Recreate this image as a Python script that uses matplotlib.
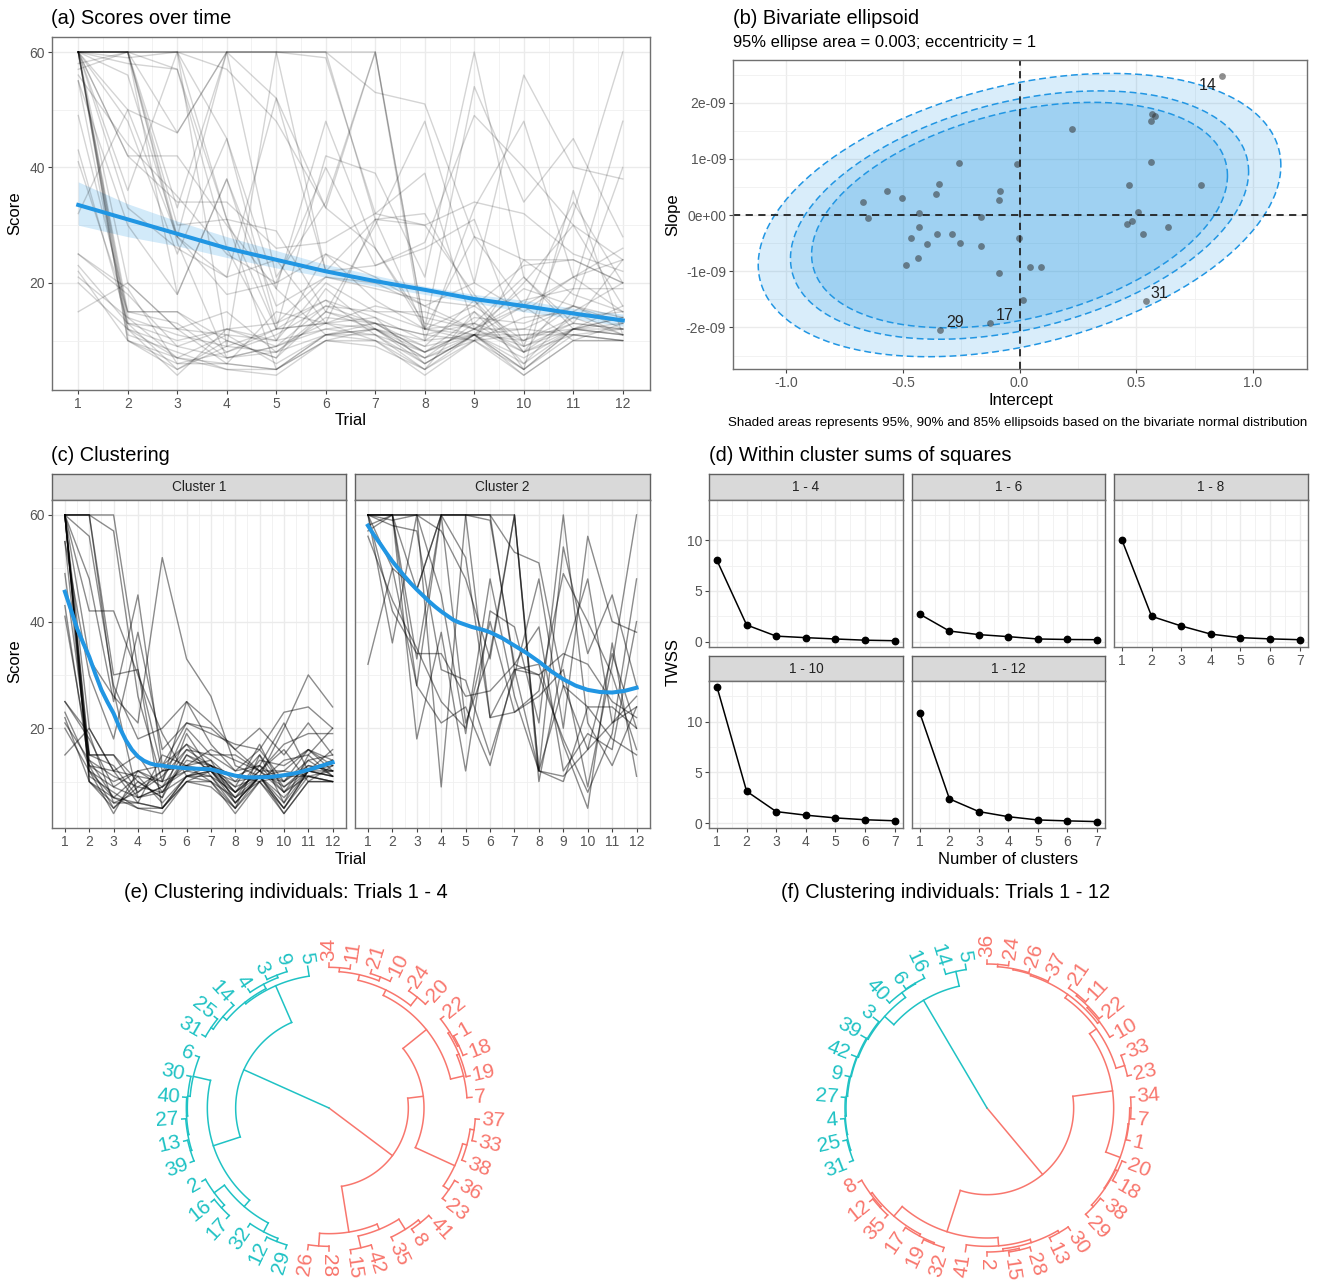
import numpy as np
import matplotlib
matplotlib.use('Agg')
import matplotlib.pyplot as plt
from matplotlib.ticker import FixedLocator

plt.rcParams['font.family'] = ['Liberation Sans', 'DejaVu Sans']

W, H = 1320, 1281
BLUE = '#2196E3'
RED = '#F8766D'
CYAN = '#1FC2C4'

trials = list(range(1, 13))

cluster1 = [
    [60, 60, 60, 31, 5, 11, 12, 6, 11, 5, 12, 12],
    [60, 60, 57, 26, 10, 25, 21, 16, 12, 12, 11, 10],
    [60, 42, 42, 30, 19, 11, 13, 8, 11, 7, 12, 11],
    [60, 60, 30, 31, 12, 17, 14, 10, 15, 9, 13, 12],
    [60, 56, 28, 18, 20, 25, 17, 12, 13, 10, 16, 14],
    [60, 48, 25, 45, 13, 21, 19, 17, 16, 23, 24, 20],
    [60, 33, 26, 21, 52, 33, 26, 13, 11, 20, 30, 24],
    [55, 30, 18, 38, 16, 21, 20, 16, 20, 15, 21, 15],
    [60, 20, 12, 15, 8, 14, 13, 11, 10, 14, 15, 11],
    [49, 15, 15, 8, 11, 16, 15, 15, 12, 17, 19, 19],
    [43, 13, 10, 12, 9, 13, 12, 9, 17, 8, 12, 14],
    [41, 15, 15, 10, 7, 15, 13, 9, 11, 12, 16, 13],
    [60, 13, 12, 11, 6, 11, 10, 5, 11, 4, 10, 10],
    [60, 10, 7, 6, 5, 11, 11, 6, 11, 5, 12, 11],
    [60, 10, 6, 6, 5, 10, 10, 4, 10, 4, 10, 10],
    [60, 12, 7, 5, 4, 10, 9, 5, 10, 5, 11, 10],
    [60, 11, 8, 5, 5, 10, 12, 7, 11, 6, 12, 13],
    [25, 18, 9, 7, 9, 12, 13, 8, 12, 9, 12, 11],
    [25, 19, 6, 8, 12, 13, 14, 6, 11, 10, 13, 12],
    [23, 13, 5, 9, 8, 11, 12, 7, 13, 8, 14, 11],
    [22, 10, 5, 10, 7, 19, 12, 10, 11, 11, 11, 10],
    [21, 14, 7, 11, 10, 20, 15, 12, 16, 10, 14, 15],
    [20, 12, 4, 12, 13, 17, 11, 5, 15, 6, 15, 20],
    [15, 20, 12, 6, 15, 13, 16, 14, 12, 16, 10, 13],
    [60, 14, 11, 9, 12, 13, 10, 7, 10, 11, 12, 16],
    [60, 15, 13, 7, 8, 15, 12, 8, 14, 13, 16, 12],
    [60, 60, 27, 7, 9, 16, 13, 11, 13, 21, 12, 14],
    [55, 12, 9, 12, 10, 12, 11, 8, 12, 8, 11, 12],
]
cluster2 = [
    [60, 60, 60, 60, 60, 60, 53, 51, 28, 16, 21, 24],
    [60, 60, 60, 60, 60, 59, 32, 30, 34, 32, 25, 22],
    [60, 60, 46, 60, 52, 22, 23, 27, 49, 40, 30, 16],
    [60, 60, 60, 57, 48, 33, 60, 12, 10, 24, 18, 15],
    [60, 60, 33, 60, 21, 34, 60, 10, 33, 48, 21, 26],
    [60, 59, 60, 45, 19, 48, 26, 12, 54, 34, 45, 28],
    [57, 60, 18, 38, 12, 42, 39, 21, 60, 21, 13, 24],
    [60, 58, 57, 31, 29, 15, 30, 48, 20, 56, 40, 38],
    [60, 50, 28, 21, 24, 13, 31, 32, 17, 5, 36, 11],
    [56, 44, 35, 25, 20, 40, 23, 26, 31, 9, 32, 60],
    [60, 42, 34, 34, 26, 27, 32, 39, 12, 19, 16, 40],
    [60, 36, 60, 9, 60, 60, 31, 30, 18, 8, 19, 48],
    [32, 50, 46, 60, 60, 22, 31, 12, 11, 16, 34, 20],
    [58, 60, 28, 60, 60, 60, 60, 12, 28, 24, 24, 20],
]

mean_all = [33.5, 31, 28.5, 26, 24, 22, 20.3, 18.8, 17.2, 16, 14.7, 13.5]
band_hi = [37.5, 33.7, 30.7, 28, 25.6, 23.2, 21.3, 19.4, 18, 17, 15.6, 14.6]
band_lo = [30, 28, 26.4, 24.4, 22.6, 21, 19.4, 18, 16.5, 15, 13.8, 12.5]

smooth_x = [1, 1.25, 1.5, 1.75, 2, 2.25, 2.5, 2.75, 3, 3.25, 3.5, 3.75, 4, 4.25, 4.5, 4.75, 5, 5.25, 5.5, 5.75, 6,
            6.5, 7, 7.5, 8, 8.5, 9, 9.5, 10, 10.5, 11, 11.5, 12]
smooth1 = [45.6, 42.2, 38.7, 36, 33.4, 30.2, 27.2, 24.9, 22.8, 20.1, 17.8, 16, 14.7, 13.9, 13.4, 13.1, 13, 12.8, 12.7,
           12.6, 12.5, 12.4, 12.3, 11.7, 11.1, 10.8, 10.8, 10.9, 11.2, 11.6, 12.2, 12.9, 13.6]
smooth2 = [58, 56.2, 54.6, 52.9, 51.3, 49.9, 48.5, 47.2, 46, 44.9, 43.8, 42.8, 41.9, 41.1, 40.3, 39.8, 39.4, 39, 38.7,
           38.4, 38, 36.9, 35.5, 34.1, 32.5, 30.7, 29.2, 28, 27.2, 26.8, 26.7, 27, 27.6]

intercepts = [.868, .566, .58, .562, .224, .564, -.259, -.013, .467, .779, -.344, -.356, -.57, -.505,
              -.083, -.089, -.671, -.429, .508, -.649, -.166, .461, .481, -.429, .635, .53, -.353,
              -.289, -.255, -.465, -.398, -.165, -.004, -.434, -.488, .045, .094, -.089, .013, .542,
              -.127, -.34]
slopes = [2.48, 1.8, 1.77, 1.67, 1.54, .94, .93, .91, .54, .53, .55, .37, .42, .3, .42, .27, .23, .04,
          .05, -.05, -.04, -.16, -.11, -.21, -.21, -.33, -.33, -.34, -.5, -.41, -.52, -.55, -.4, -.77,
          -.88, -.93, -.93, -1.03, -1.51, -1.53, -1.93, -2.05]
outliers = ['14', '31', '17', '29']
outlier_x = [.805, .60, -.063, -.275]
outlier_y = [2.31, -1.39, -1.78, -1.92]
sd_x, sd_y, rho = .4575, 1.03, .35
ellipse_q = [2.448, 2.146, 1.948]

n_clusters = [1, 2, 3, 4, 5, 6, 7]
wss_names = ['1 - 4', '1 - 6', '1 - 8', '1 - 10', '1 - 12']
wss = [
    [8.0, 1.65, .55, .4, .27, .15, .1],
    [2.7, 1.05, .7, .5, .27, .22, .2],
    [10.0, 2.5, 1.55, .75, .4, .28, .2],
    [13.4, 3.15, 1.15, .8, .53, .35, .25],
    [10.8, 2.4, 1.15, .65, .33, .24, .17],
]

# dendrograms: (radius, child, child), leaves clockwise from the top
red_e = (238,
         (285,
          (375,
           (393, (410, (422, '34', '11'), (422, '21', '10')), (425, '24', '20')),
           (415, (422, (428, '22', (432, '1', '18')), '19'), '7')),
          (415, (428, (440, '37', '33'), '38'), (435, '36', '23'))),
         (377,
          (394, (430, (440, '41', '8'), '35'), (430, '42', '15')),
          (415, '28', '26')))
cyan_e = (280,
          (365,
           (390, (420, (430, '29', '12'), '32'), (428, (440, '17', '16'), '2')),
           (418, (425, (428, (431, (435, '39', '13'), '27'), '40'), '30'), '6')),
          (400,
           (405, (420, (428, '31', '25'), '14'), (420, '4', (428, '3', '9'))),
           '5'))
red_f = (260,
         (380,
          (405,
           (418,
            (422, (425, (432, '36', '24'), '26'), '37'),
            (425, (430, (435, '21', '11'), '22'), '10')),
           (432, '33', '23')),
          (426,
           (428, (432, '34', '7'), '1'),
           (428, (435, '20', '18'), (435, '38', '29')))),
         (390,
          (415,
           (425, (432, '30', '13'), (432, (437, '28', '15'), '2')),
           '41'),
          (428,
           (434, (438, '32', '19'), '17'),
           (434, (438, '35', '12'), '8'))))
cyan_f = (375,
          (412,
           (415, (418, (420, (423, (426, (428, (431, '31', '25'), '4'), '27'), '9'), '42'), '39'), '3'),
           (430, '40', (432, '6', '16'))),
          (420, '14', '5'))


def px_axes(fig, left, top, right, bottom, **kw):
    return fig.add_axes([left / W, 1 - bottom / H, (right - left) / W, (bottom - top) / H], **kw)


def fig_text(fig, x, y, s, **kw):
    kw.setdefault('ha', 'left')
    kw.setdefault('va', 'center')
    kw.setdefault('color', 'black')
    fig.text(x / W, 1 - y / H, s, **kw)


def style_axes(ax, xmajor, xminor, ymajor, yminor, xlabels=True, ylabels=True):
    ax.set_axisbelow(True)
    ax.xaxis.set_major_locator(FixedLocator(xmajor))
    ax.xaxis.set_minor_locator(FixedLocator(xminor))
    ax.yaxis.set_major_locator(FixedLocator(ymajor))
    ax.yaxis.set_minor_locator(FixedLocator(yminor))
    ax.grid(which='major', color='#EBEBEB', lw=1.0)
    ax.grid(which='minor', color='#F0F0F0', lw=0.6)
    ax.tick_params(which='minor', length=0)
    ax.tick_params(which='major', length=3, width=0.8, color='#444444', labelcolor='#555555', labelsize=10, pad=2)
    if not xlabels:
        ax.tick_params(axis='x', which='major', length=0, labelbottom=False)
    if not ylabels:
        ax.tick_params(axis='y', which='major', length=0, labelleft=False)
    for sp in ax.spines.values():
        sp.set_color('#707070')
        sp.set_linewidth(1.0)


def strip(fig, left, top, right, bottom, label):
    ax = px_axes(fig, left, top, right, bottom)
    ax.set_facecolor('#D9D9D9')
    ax.set_xticks([])
    ax.set_yticks([])
    for sp in ax.spines.values():
        sp.set_color('#606060')
        sp.set_linewidth(1.0)
    ax.text(0.5, 0.5, label, transform=ax.transAxes, ha='center', va='center', fontsize=9.8, color='#222222')


def draw_node(ax, node, parent_r, color, leaves, floor_r):
    if isinstance(node, str):
        theta = leaves[0] * 2 * np.pi / 42
        leaves[0] += 1
        end_r = max(parent_r + 12, floor_r)
        ax.plot([theta, theta], [parent_r, end_r], color=color, lw=1.1)
        deg = np.degrees(theta)
        if deg <= 180:
            rot, ha = 90 - deg, 'left'
        else:
            rot, ha = 270 - deg, 'right'
        ax.text(theta, end_r + 8, node, rotation=rot, rotation_mode='anchor', ha=ha, va='center',
                color=color, fontsize=15)
        return theta
    r, a, b = node
    t1 = draw_node(ax, a, r, color, leaves, floor_r)
    t2 = draw_node(ax, b, r, color, leaves, floor_r)
    arc = np.linspace(t1, t2, 60)
    ax.plot(arc, np.full(60, r), color=color, lw=1.1)
    theta = (t1 + t2) / 2
    ax.plot([theta, theta], [parent_r, r], color=color, lw=1.1)
    return theta


def dendrogram(fig, cx, cy, red_tree, cyan_tree, floor_r):
    half = 172
    ax = px_axes(fig, cx - half, cy - half, cx + half, cy + half, projection='polar')
    ax.set_theta_zero_location('N')
    ax.set_theta_direction(-1)
    ax.set_rlim(0, half * 3)
    ax.axis('off')
    leaves = [0]
    draw_node(ax, red_tree, 0, RED, leaves, floor_r)
    draw_node(ax, cyan_tree, 0, CYAN, leaves, floor_r)


def main():
    fig = plt.figure(figsize=(W / 100, H / 100), dpi=100)
    title_fs = 14.4
    label_fs = 12

    # (a)
    ax = px_axes(fig, 52, 37, 650, 390)
    for row in cluster1 + cluster2:
        ax.plot(trials, row, color='black', alpha=0.17, lw=1.0)
    ax.fill_between(trials, band_lo, band_hi, color=BLUE, alpha=0.2, lw=0)
    ax.plot(trials, mean_all, color=BLUE, lw=2.9)
    ax.set_xlim(0.47, 12.55)
    ax.set_ylim(1.44, 62.6)
    style_axes(ax, trials, np.arange(1.5, 12, 1), [20, 40, 60], [10, 30, 50])
    fig_text(fig, 51, 18, '(a) Scores over time', fontsize=title_fs)
    fig_text(fig, 15, 213, 'Score', rotation=90, ha='center', fontsize=label_fs)
    fig_text(fig, 351, 421, 'Trial', ha='center', fontsize=label_fs)

    # (b)
    ax = px_axes(fig, 733, 60, 1307, 369)
    t = np.linspace(0, 2 * np.pi, 300)
    for q in ellipse_q:
        ex = q * sd_x * np.cos(t)
        ey = q * sd_y * (rho * np.cos(t) + np.sqrt(1 - rho ** 2) * np.sin(t))
        ax.fill(ex, ey, color=BLUE, alpha=0.17, lw=0)
        ax.plot(ex, ey, color=BLUE, lw=1.1, ls=(0, (4.5, 2.5)))
    ax.axhline(0, color='#222222', lw=1.3, ls=(0, (4, 3)))
    ax.axvline(0, color='#222222', lw=1.3, ls=(0, (4, 3)))
    ax.scatter(intercepts, slopes, s=24, color='#333333', alpha=0.55, lw=0, zorder=3)
    for name, x, y in zip(outliers, outlier_x, outlier_y):
        ax.text(x, y, name, ha='center', va='center', fontsize=11.5, color='#222222', zorder=4)
    ax.set_xlim(-1.228, 1.232)
    ax.set_ylim(-2.74, 2.76)
    style_axes(ax, [-1, -.5, 0, .5, 1], [-.75, -.25, .25, .75], [-2, -1, 0, 1, 2], [-2.5, -1.5, -.5, .5, 1.5, 2.5])
    ax.set_xticklabels(['-1.0', '-0.5', '0.0', '0.5', '1.0'])
    ax.set_yticklabels(['-2e-09', '-1e-09', '0e+00', '1e-09', '2e-09'])
    fig_text(fig, 733, 18, '(b) Bivariate ellipsoid', fontsize=title_fs)
    fig_text(fig, 733, 43, '95% ellipse area = 0.003; eccentricity = 1', fontsize=11.9)
    fig_text(fig, 673, 215, 'Slope', rotation=90, ha='center', fontsize=label_fs)
    fig_text(fig, 1021, 401, 'Intercept', ha='center', fontsize=label_fs)
    fig_text(fig, 1307, 423, 'Shaded areas represents 95%, 90% and 85% ellipsoids based on the bivariate normal distribution',
             ha='right', fontsize=9.65)

    # (c)
    boxes = [(52, 346, 'Cluster 1', cluster1, smooth1), (355, 650, 'Cluster 2', cluster2, smooth2)]
    for i, (left, right, name, rows, smooth) in enumerate(boxes):
        strip(fig, left, 474, right, 500, name)
        ax = px_axes(fig, left, 500, right, 828)
        for row in rows:
            ax.plot(trials, row, color='black', alpha=0.45, lw=1.0)
        ax.plot(smooth_x, smooth, color=BLUE, lw=2.9)
        ax.set_xlim(0.47, 12.55)
        ax.set_ylim(1.3, 62.8)
        style_axes(ax, trials, np.arange(1.5, 12, 1), [20, 40, 60], [10, 30, 50], ylabels=i == 0)
    fig_text(fig, 51, 456, '(c) Clustering', fontsize=title_fs)
    fig_text(fig, 15, 661, 'Score', rotation=90, ha='center', fontsize=label_fs)
    fig_text(fig, 351, 859, 'Trial', ha='center', fontsize=label_fs)

    # (d)
    cols = [(709, 903), (912, 1105), (1114, 1308)]
    rows_px = [(474, 500, 646.7), (656, 681.3, 828.3)]
    for i, name in enumerate(wss_names):
        col = i % 3
        row = i // 3
        left, right = cols[col]
        s_top, p_top, p_bot = rows_px[row]
        strip(fig, left, s_top, right, p_top, name)
        ax = px_axes(fig, left, p_top, right, p_bot)
        ax.plot(n_clusters, wss[i], color='black', lw=1.1, marker='o', ms=4.6)
        ax.set_xlim(0.73, 7.28)
        ax.set_ylim(-0.49, 13.95)
        style_axes(ax, n_clusters, np.arange(1.5, 7, 1), [0, 5, 10], [2.5, 7.5, 12.5],
                   xlabels=row == 1 or col == 2, ylabels=col == 0)
    fig_text(fig, 709, 456, '(d) Within cluster sums of squares', fontsize=title_fs)
    fig_text(fig, 673, 662, 'TWSS', rotation=90, ha='center', fontsize=label_fs)
    fig_text(fig, 1008, 859, 'Number of clusters', ha='center', fontsize=label_fs)

    # (e), (f)
    fig_text(fig, 124, 893, '(e) Clustering individuals: Trials 1 - 4', fontsize=title_fs)
    fig_text(fig, 781, 893, '(f) Clustering individuals: Trials 1 - 12', fontsize=title_fs)
    dendrogram(fig, 329, 1108, red_e, cyan_e, 430)
    dendrogram(fig, 987, 1108, red_f, cyan_f, 436)

    fig.savefig('out.png', dpi=100)


if __name__ == '__main__':
    main()
